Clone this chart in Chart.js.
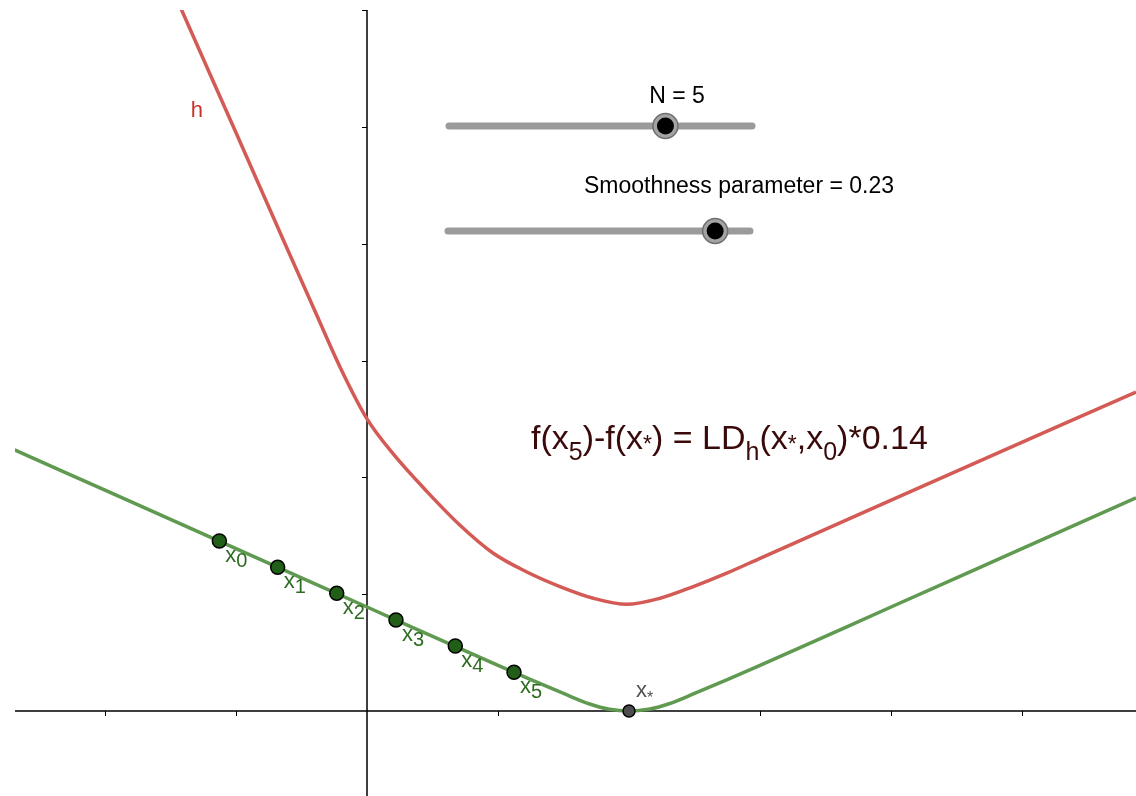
<!DOCTYPE html>
<html>
<head>
<meta charset="utf-8">
<title>LD_h bound</title>
<script src="https://cdn.jsdelivr.net/npm/chart.js@4.4.1/dist/chart.umd.min.js"></script>
<style>
  html, body { margin: 0; padding: 0; background: #fff; }
  #wrap { position: relative; width: 1136px; height: 796px; }
</style>
</head>
<body>
<div id="wrap"><canvas id="plot"></canvas></div>
<script>
// values, in axis units
const fX = [-2.69, -2, -1, 0, 1, 1.25, 1.5, 1.7, 1.85, 2, 2.15, 2.3, 2.5, 2.75, 3, 4, 5, 5.87];
const fY = [2.235, 1.89, 1.39, 0.89, 0.39, 0.268, 0.15, 0.06, 0.015, 0, 0.015, 0.06, 0.15, 0.268, 0.39, 0.89, 1.39, 1.825];

const hX = [-1.5, -1.415, -1.02, -0.626, -0.4, -0.2, 0, 0.2, 0.456, 0.71, 0.964, 1.22, 1.473, 1.727, 1.982, 2.237, 2.491, 2.746, 3.0, 4.07, 5.87];
const hY = [6.22, 6.0, 5.0, 4.0, 3.43, 2.93, 2.5, 2.2, 1.88, 1.59, 1.35, 1.19, 1.065, 0.965, 0.913, 0.965, 1.065, 1.18, 1.307, 1.84, 2.73];

const iterX = [-1.127, -0.682, -0.231, 0.221, 0.674, 1.122];
const iterY = [1.455, 1.23, 1.007, 0.779, 0.556, 0.331];
const iterNames = ['0', '1', '2', '3', '4', '5'];

const starX = [2];
const starY = [0];

const xTicks = [-2, -1, 1, 2, 3, 4, 5];
const yTicks = [1, 2, 3, 4, 5, 6];

const nValue = 5;
const nRange = [0, 7];
const smoothValue = 0.23;
const smoothRange = [0, 0.26];

const FONT = '"Liberation Sans", Arial, Helvetica, sans-serif';

function toPts(xs, ys) {
    return xs.map((x, i) => ({ x: x, y: ys[i] }));
}

// parts: [text, size, dy]
function drawRich(ctx, x, y, parts, color) {
    ctx.fillStyle = color;
    ctx.textAlign = 'left';
    ctx.textBaseline = 'alphabetic';
    parts.forEach(p => {
        ctx.font = p[1] + 'px ' + FONT;
        ctx.fillText(p[0], x, y + p[2]);
        x += ctx.measureText(p[0]).width;
    });
}

function drawSlider(ctx, x0, x1, y, frac) {
    ctx.save();
    ctx.lineCap = 'round';
    ctx.lineWidth = 7;
    ctx.strokeStyle = '#9b9b9b';
    ctx.beginPath();
    ctx.moveTo(x0, y);
    ctx.lineTo(x1, y);
    ctx.stroke();
    const kx = x0 + (x1 - x0) * frac;
    ctx.beginPath();
    ctx.arc(kx, y, 12.5, 0, Math.PI * 2);
    ctx.fillStyle = '#a3a3a3';
    ctx.fill();
    ctx.lineWidth = 1.5;
    ctx.strokeStyle = '#6e6e6e';
    ctx.stroke();
    ctx.beginPath();
    ctx.arc(kx, y, 8.5, 0, Math.PI * 2);
    ctx.fillStyle = '#000';
    ctx.fill();
    ctx.restore();
}

const axesPlugin = {
    id: 'axes',
    beforeDatasetsDraw(chart) {
        const ctx = chart.ctx;
        const xs = chart.scales.x, ys = chart.scales.y;
        const area = chart.chartArea;
        const ox = xs.getPixelForValue(0), oy = ys.getPixelForValue(0);
        ctx.save();
        ctx.strokeStyle = '#000';
        ctx.lineWidth = 1.5;
        ctx.beginPath();
        ctx.moveTo(area.left, oy);
        ctx.lineTo(area.right, oy);
        ctx.moveTo(ox, area.top);
        ctx.lineTo(ox, area.bottom);
        ctx.stroke();
        ctx.lineWidth = 1;
        ctx.beginPath();
        xTicks.forEach(v => {
            const px = Math.round(xs.getPixelForValue(v)) + 0.5;
            ctx.moveTo(px, oy);
            ctx.lineTo(px, oy + 5);
        });
        yTicks.forEach(v => {
            const py = Math.round(ys.getPixelForValue(v)) + 0.5;
            ctx.moveTo(ox - 5, py);
            ctx.lineTo(ox, py);
        });
        ctx.stroke();
        ctx.restore();
    },
    afterDatasetsDraw(chart) {
        const ctx = chart.ctx;
        const xs = chart.scales.x, ys = chart.scales.y;
        ctx.save();

        // iterate labels x0..x5
        iterX.forEach((v, i) => {
            const px = xs.getPixelForValue(v), py = ys.getPixelForValue(iterY[i]);
            drawRich(ctx, px + 6, py + 21, [['x', 22, 0], [iterNames[i], 20, 5]], '#2d6b20');
        });

        // minimiser label
        const sx = xs.getPixelForValue(starX[0]), sy = ys.getPixelForValue(starY[0]);
        drawRich(ctx, sx + 7, sy - 14, [['x', 22, 0], ['*', 16, 6]], '#505050');

        // curve name
        drawRich(ctx, xs.getPixelForValue(-1.345), ys.getPixelForValue(5.08), [['h', 22, 0]], '#c8322a');

        // formula
        drawRich(ctx, 531, 449, [
            ['f(x', 34, 0], ['5', 25, 11], [')-f(x', 34, 0], ['*', 23, 3],
            [') = LD', 34, 0], ['h', 25, 11], ['(x', 34, 0], ['*', 23, 3],
            [',x', 34, 0], ['0', 25, 11], [')*0.14', 34, 0]
        ], '#3a0a0a');

        // sliders
        ctx.fillStyle = '#000';
        ctx.font = '23px ' + FONT;
        ctx.textAlign = 'center';
        ctx.fillText('N = ' + nValue, 677, 103);
        ctx.fillText('Smoothness parameter = ' + smoothValue, 739, 193);
        drawSlider(ctx, 449, 752, 126, (nValue - nRange[0]) / (nRange[1] - nRange[0]));
        drawSlider(ctx, 448, 750, 231, (smoothValue - smoothRange[0]) / (smoothRange[1] - smoothRange[0]));

        ctx.restore();
    }
};

new Chart(document.getElementById('plot'), {
    type: 'scatter',
    data: {
        datasets: [
            {
                label: 'x_n',
                data: toPts(iterX, iterY),
                pointRadius: 7,
                pointBackgroundColor: '#215e17',
                pointBorderColor: '#000',
                pointBorderWidth: 1.5,
                order: 0
            },
            {
                label: 'x*',
                data: toPts(starX, starY),
                pointRadius: 6,
                pointBackgroundColor: '#4d4d4d',
                pointBorderColor: '#000',
                pointBorderWidth: 1.5,
                order: 0
            },
            {
                label: 'f',
                data: toPts(fX, fY),
                showLine: true,
                pointRadius: 0,
                borderColor: '#5f9a50',
                borderWidth: 3.5,
                cubicInterpolationMode: 'monotone',
                order: 2
            },
            {
                label: 'h',
                data: toPts(hX, hY),
                showLine: true,
                pointRadius: 0,
                borderColor: '#d45a55',
                borderWidth: 3.5,
                cubicInterpolationMode: 'monotone',
                order: 1
            }
        ]
    },
    options: {
        responsive: true,
        maintainAspectRatio: false,
        animation: false,
        layout: { autoPadding: false, padding: { left: 15, top: 10, right: 0, bottom: 0 } },
        scales: {
            x: { type: 'linear', min: -2.687, max: 5.87, display: false },
            y: { type: 'linear', min: -0.7275, max: 6, display: false }
        },
        plugins: {
            legend: { display: false },
            tooltip: { enabled: false }
        }
    },
    plugins: [axesPlugin]
});
</script>
</body>
</html>
